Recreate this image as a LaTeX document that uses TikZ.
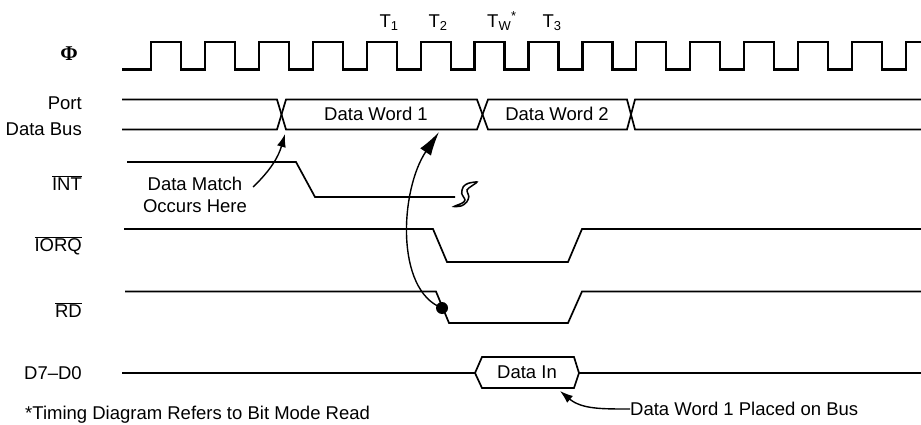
\documentclass[tikz,border=0pt]{standalone}
\usepackage{fontspec}
\setmainfont{Liberation Sans}
\newfontfamily\phifont{Liberation Serif}
\usetikzlibrary{arrows.meta}
\newcommand{\sig}[1]{$\overline{\mbox{#1}}$}

\begin{document}
\begin{tikzpicture}[
  x=1pt, y=-1pt,
  font=\fontsize{18.5}{22}\selectfont,
  wave/.style={line width=1.7pt},
  clk/.style={line width=2.2pt},
  lbl/.style={anchor=east, inner sep=0pt},
  txt/.style={inner sep=0pt},
  arrow/.style={-{Latex[length=13pt,width=9pt]}, line width=1.4pt},
  bigarrow/.style={-{Latex[length=24pt,width=13pt]}, line width=1.4pt}
]
\useasboundingbox (0,0) rectangle (921,425);

\node[txt] (phi) at (69,54) {\phifont\bfseries\fontsize{21}{21}\selectfont Φ};
\node[lbl] (port) at (82,103) {Port};
\node[lbl] (bus) at (82,129) {Data Bus};
\node[lbl] (int) at (82,183) {\sig{INT}};
\node[lbl] (iorq) at (82,246) {\sig{IORQ}};
\node[lbl] (rd) at (82,310) {\sig{RD}};
\node[lbl] (dbus) at (82,373) {D7--D0};
\node[txt, anchor=west] (note) at (25,415) {*Timing Diagram Refers to Bit Mode Read};

\node[txt] (t1) at (389,23) {T\textsubscript{1}};
\node[txt] (t2) at (438,23) {T\textsubscript{2}};
\node[txt] (tw) at (502,21) {T\textsubscript{W}\textsuperscript{*}};
\node[txt] (t3) at (552,23) {T\textsubscript{3}};

\draw[clk] (122,69.5) foreach \k in {0,...,13} {
  -- ({151+53.93*\k},69.5) -- ({151+53.93*\k},42)
  -- ({181+53.93*\k},42) -- ({181+53.93*\k},69.5) }
  -- (906,69.5) -- (906,42) -- (921,42);

\draw[wave] (122,99.5) -- (277,99.5) -- (286,129.5) -- (477,129.5) -- (488,99.5) -- (627,99.5) -- (635,129.5) -- (921,129.5);
\draw[wave] (122,129.5) -- (277,129.5) -- (286,99.5) -- (477,99.5) -- (488,129.5) -- (627,129.5) -- (635,99.5) -- (921,99.5);
\node[txt] (dw1) at (376,114) {Data Word 1};
\node[txt] (dw2) at (557,114) {Data Word 2};

\draw[wave] (127,162) -- (296,162) -- (315,197) -- (455,197);
\draw[line width=1.5pt, fill=white] plot[smooth cycle, tension=0.5] coordinates {
  (454,206.5) (461.7,203.3) (465,200) (461.7,193.3) (463.3,186.7) (468.3,183.3)
  (477,182) (471.7,186) (467,190) (468.8,196.7) (466.7,202) (461.7,205.8)};

\draw[wave] (124,229) -- (433,229) -- (447,262) -- (568,262) -- (582,229) -- (921,229);
\draw[wave] (125,291.5) -- (436,291.5) -- (449,323) -- (568,323) -- (582,291.5) -- (921,291.5);

\draw[wave] (122,373) -- (475,373) -- (482,357) -- (574,357) -- (579,373) -- (921,373);
\draw[wave] (475,373) -- (482,388) -- (574,388) -- (579,373);
\node[txt] (din) at (527,372) {Data In};

\node[txt, align=center] (match) at (195,195) {Data Match\\Occurs Here};
\node[txt, anchor=west] (placed) at (630,409) {Data Word 1 Placed on Bus};
\node[circle, fill, inner sep=0pt, minimum size=12pt] (rddot) at (442,308) {};

\coordinate (matchtip) at (285,134);
\coordinate (dw1tip) at (439,132);
\coordinate (dintip) at (560,391);

\draw[arrow] ([xshift=6pt,yshift=-10pt]match.north east) to[bend right=15] (matchtip);
\draw[bigarrow] (rddot.center) .. controls (395,290) and (400,190) .. (dw1tip);
\draw[arrow] (placed.west) to[out=180,in=-40] (dintip);
\end{tikzpicture}
\end{document}
